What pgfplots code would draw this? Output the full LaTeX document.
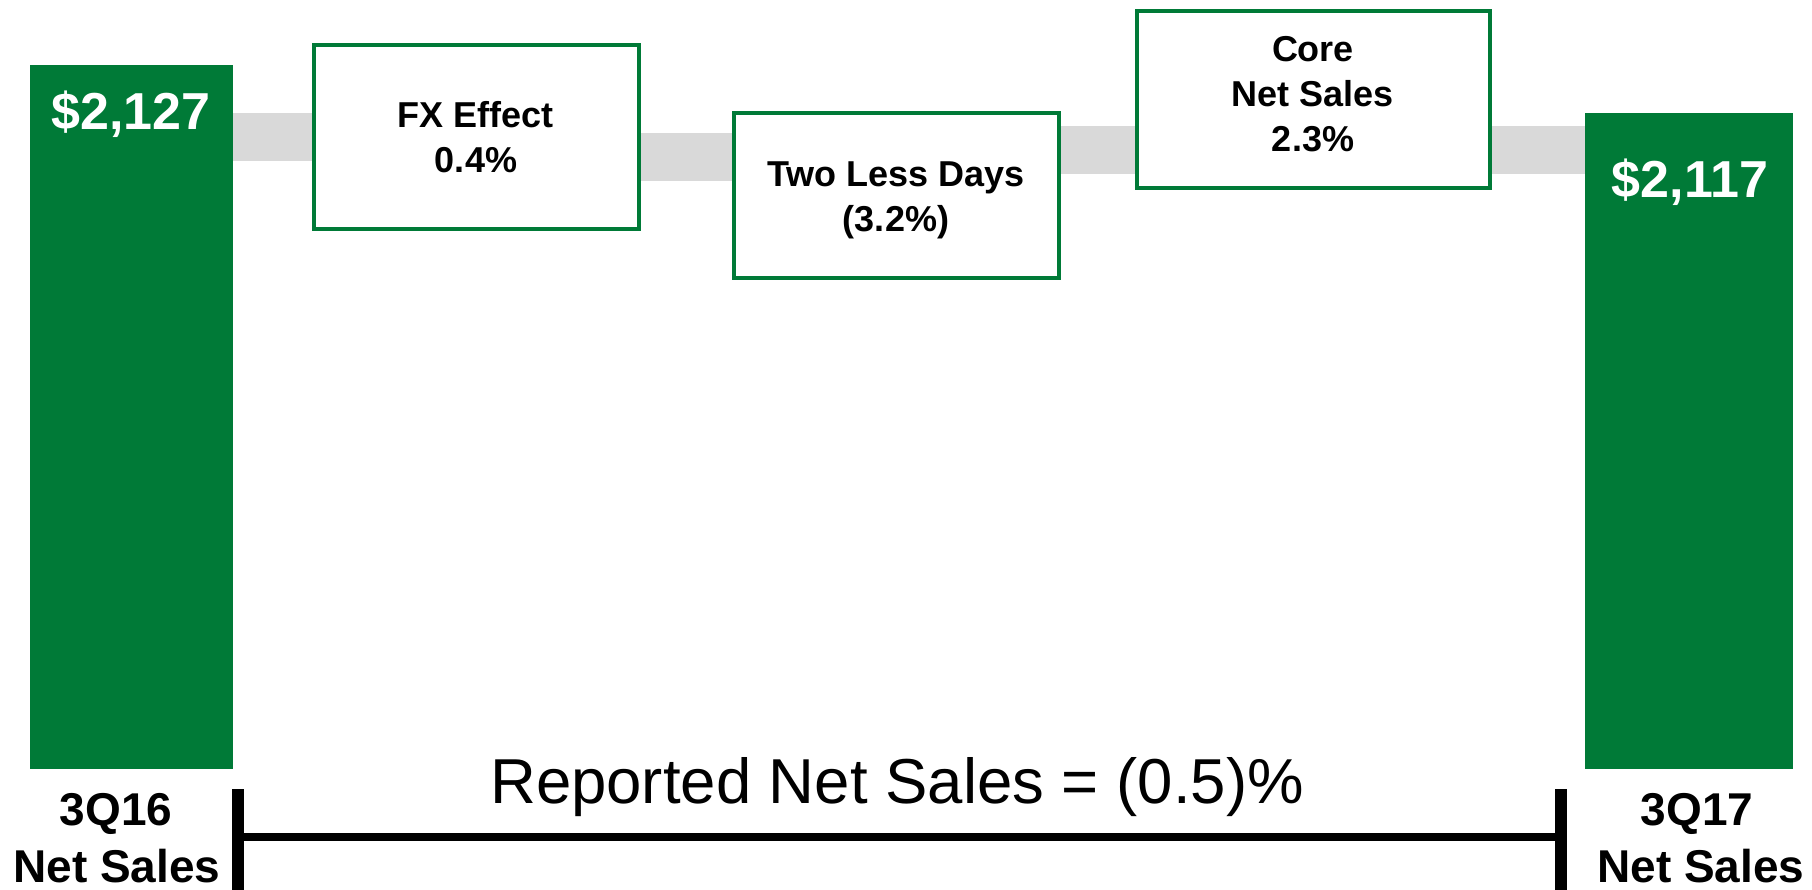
\documentclass[border=0pt]{standalone}
\usepackage{pgfplots}
\pgfplotsset{compat=1.18}
\usepackage{fontspec}
\setmainfont{Liberation Sans}
\definecolor{bargreen}{RGB}{0,122,55}
\definecolor{bandgray}{RGB}{217,217,217}
\begin{document}
\begin{tikzpicture}
\begin{axis}[
  width=1812pt, height=890pt, scale only axis,
  xmin=0, xmax=1812, ymin=0, ymax=890,
  hide axis, clip=false,
]
% gray connector bands
\addplot[fill=bandgray, draw=none] coordinates {(233,729) (312,729) (312,777) (233,777)} --cycle;
\addplot[fill=bandgray, draw=none] coordinates {(641,709) (733,709) (733,757) (641,757)} --cycle;
\addplot[fill=bandgray, draw=none] coordinates {(1060,716) (1137,716) (1137,764) (1060,764)} --cycle;
\addplot[fill=bandgray, draw=none] coordinates {(1491,716) (1585,716) (1585,764) (1491,764)} --cycle;
% bars
\addplot[fill=bargreen, draw=none] coordinates {(30,121) (233,121) (233,825) (30,825)} --cycle;
\addplot[fill=bargreen, draw=none] coordinates {(1585,121) (1793,121) (1793,777) (1585,777)} --cycle;
% boxes
\addplot[fill=white, draw=bargreen, line width=4.5pt] coordinates {(314,661) (639,661) (639,845) (314,845)} --cycle;
\addplot[fill=white, draw=bargreen, line width=4.5pt] coordinates {(734,612) (1059,612) (1059,777) (734,777)} --cycle;
\addplot[fill=white, draw=bargreen, line width=4.5pt] coordinates {(1137,702) (1490,702) (1490,879) (1137,879)} --cycle;
% bracket
\addplot[black, line width=8pt, line cap=round] coordinates {(242,53) (1557,53)};
\addplot[black, line width=12.5pt] coordinates {(238,0) (238,101)};
\addplot[black, line width=12.5pt] coordinates {(1561,0) (1561,101)};
% texts
\node[anchor=base, inner sep=0pt, text=white, font=\fontsize{52}{52}\selectfont\bfseries] at (axis cs:131,760) {\$2,127};
\node[anchor=base, inner sep=0pt, text=white, font=\fontsize{52}{52}\selectfont\bfseries] at (axis cs:1690,692) {\$2,117};
\node[anchor=base, inner sep=0pt, font=\fontsize{36}{36}\selectfont\bfseries] at (axis cs:476,762) {FX Effect};
\node[anchor=base, inner sep=0pt, font=\fontsize{36}{36}\selectfont\bfseries] at (axis cs:476,717) {0.4\%};
\node[anchor=base, inner sep=0pt, font=\fontsize{36}{36}\selectfont\bfseries] at (axis cs:896,703) {Two Less Days};
\node[anchor=base, inner sep=0pt, font=\fontsize{36}{36}\selectfont\bfseries] at (axis cs:896,658) {(3.2\%)};
\node[anchor=base, inner sep=0pt, font=\fontsize{36}{36}\selectfont\bfseries] at (axis cs:1313,828) {Core};
\node[anchor=base, inner sep=0pt, font=\fontsize{36}{36}\selectfont\bfseries] at (axis cs:1313,783) {Net Sales};
\node[anchor=base, inner sep=0pt, font=\fontsize{36}{36}\selectfont\bfseries] at (axis cs:1313,738) {2.3\%};
\node[anchor=base, inner sep=0pt, font=\fontsize{46}{46}\selectfont\bfseries] at (axis cs:116,64) {3Q16};
\node[anchor=base, inner sep=0pt, font=\fontsize{46}{46}\selectfont\bfseries] at (axis cs:117,7) {Net Sales};
\node[anchor=base, inner sep=0pt, font=\fontsize{46}{46}\selectfont\bfseries] at (axis cs:1697,64) {3Q17};
\node[anchor=base, inner sep=0pt, font=\fontsize{46}{46}\selectfont\bfseries] at (axis cs:1701,7) {Net Sales};
\node[anchor=base, inner sep=0pt, font=\fontsize{63.5}{63.5}\selectfont] at (axis cs:897,86) {Reported Net Sales = (0.5)\%};
\end{axis}
\pgfresetboundingbox
\path (current axis.south west) rectangle (current axis.north east);
\end{tikzpicture}
\end{document}
